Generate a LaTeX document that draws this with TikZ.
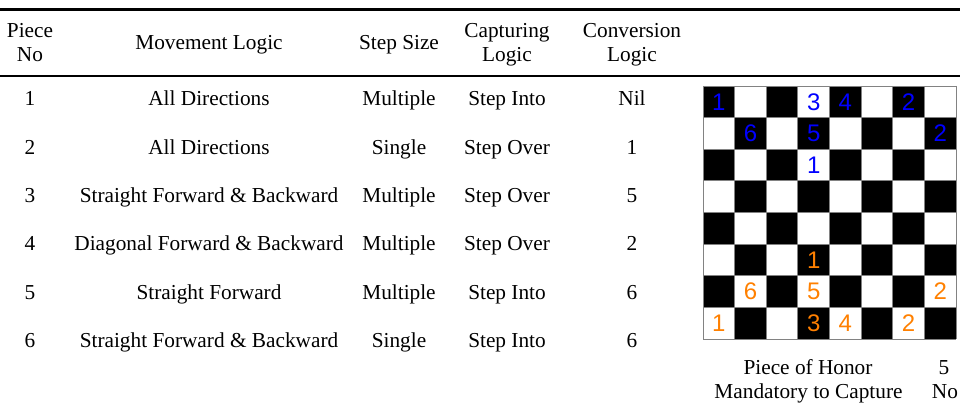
\documentclass[tikz,border=0pt]{standalone}
\usepackage{fontspec}
\setmainfont{Liberation Serif}
\newfontfamily\boardfont{Liberation Sans}
\definecolor{pblue}{RGB}{0,0,255}
\definecolor{porange}{RGB}{255,128,0}
\definecolor{gridgrey}{RGB}{130,130,130}
\begin{document}
\begin{tikzpicture}[x=1pt,y=-1pt,
  txt/.style={font=\fontsize{21.3}{24.5}\selectfont, inner sep=0pt, anchor=base},
  rulethick/.style={line width=2.6pt},
  rulethin/.style={line width=2.2pt},
  piece/.style={font=\boardfont\fontsize{24}{24}\selectfont, inner sep=0pt, anchor=center}]
\useasboundingbox (0,0) rectangle (960,409);
% rules
\coordinate (rt1) at (0,9.7);
\coordinate (rt2) at (960,9.7);
\coordinate (rb1) at (0,76.3);
\coordinate (rb2) at (960,76.3);
\draw[rulethick] (rt1) -- (rt2);
\draw[rulethin] (rb1) -- (rb2);
% header
\node[txt] (h1a) at (30,38) {Piece};
\node[txt] (h1b) at (30,62) {No};
\node[txt] (h2) at (209,50) {Movement Logic};
\node[txt] (h3) at (399,50) {Step Size};
\node[txt] (h4a) at (507,38) {Capturing};
\node[txt] (h4b) at (507,62) {Logic};
\node[txt] (h5a) at (632,38) {Conversion};
\node[txt] (h5b) at (632,62) {Logic};
% rows
\foreach \i/\y/\mv/\st/\cp/\cv in {
  1/106/All Directions/Multiple/Step Into/Nil,
  2/154/All Directions/Single/Step Over/1,
  3/202/Straight Forward \& Backward/Multiple/Step Over/5,
  4/250/Diagonal Forward \& Backward/Multiple/Step Over/2,
  5/299/Straight Forward/Multiple/Step Into/6,
  6/347/Straight Forward \& Backward/Single/Step Into/6}{
  \node[txt] (n\i) at (30,\y) {\i};
  \node[txt] (m\i) at (209,\y) {\mv};
  \node[txt] (s\i) at (399,\y) {\st};
  \node[txt] (c\i) at (507,\y) {\cp};
  \node[txt] (v\i) at (632,\y) {\cv};
}
% board
\def\bx{703}\def\by{86}\def\cs{31.625}
\foreach \r in {0,...,7}{
  \foreach \c in {0,...,7}{
    \pgfmathsetmacro{\xa}{\bx+\c*\cs}
    \pgfmathsetmacro{\ya}{\by+\r*\cs}
    \pgfmathsetmacro{\xb}{\xa+\cs}
    \pgfmathsetmacro{\yb}{\ya+\cs}
    \pgfmathtruncatemacro{\parity}{mod(\r+\c,2)}
    \ifnum\parity=0
      \fill[black] (\xa,\ya) rectangle (\xb,\yb);
    \fi
  }
}
\foreach \k in {0,...,8}{
  \pgfmathsetmacro{\p}{\bx+\k*\cs}
  \pgfmathsetmacro{\q}{\by+\k*\cs}
  \draw[draw=gridgrey, line width=0.9pt] (\p,\by) -- (\p,339);
  \draw[draw=gridgrey, line width=0.9pt] (\bx,\q) -- (956,\q);
}
\foreach \r/\c/\n/\col in {
  0/0/1/pblue, 0/3/3/pblue, 0/4/4/pblue, 0/6/2/pblue,
  1/1/6/pblue, 1/3/5/pblue, 1/7/2/pblue, 2/3/1/pblue,
  5/3/1/porange, 6/1/6/porange, 6/3/5/porange, 6/7/2/porange,
  7/0/1/porange, 7/3/3/porange, 7/4/4/porange, 7/6/2/porange}{
  \pgfmathsetmacro{\xc}{\bx+(\c+0.5)*\cs}
  \pgfmathsetmacro{\yc}{\by+(\r+0.5)*\cs}
  \node[piece, text=\col] (p\r\c) at (\xc,\yc) {\n};
}
% bottom
\node[txt] (honor) at (808,374) {Piece of Honor};
\node[txt] (honorv) at (944,374) {5};
\node[txt] (mand) at (808.5,398) {Mandatory to Capture};
\node[txt] (mandv) at (945,398) {No};
\end{tikzpicture}
\end{document}
